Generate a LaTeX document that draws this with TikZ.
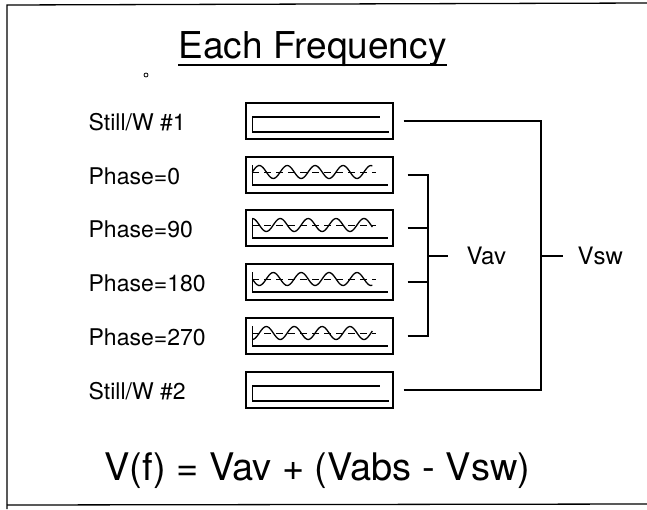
\documentclass[tikz,border=0pt]{standalone}
\usepackage{fontspec}
\setmainfont{TeX Gyre Heros}
\usetikzlibrary{positioning,calc}

\begin{document}
\begin{tikzpicture}[x=1pt,y=-1pt,line width=1.3pt,
  rowlab/.style={anchor=base west,inner sep=0pt,font=\fontsize{23}{23}\selectfont},
  scopebox/.style={draw,minimum width=147pt,minimum height=36pt,inner sep=0pt},
  sumlab/.style={anchor=base west,inner sep=0pt,font=\fontsize{24}{24}\selectfont}]
\useasboundingbox (0,0) rectangle (647,509);
% --- frame ---
\draw (647,3) -- (7,5) -- (7,509);
\draw (7,505) -- (647,504);
% --- title ---
\node[anchor=base west,inner sep=0pt,font=\fontsize{37}{37}\selectfont] (title) at (178,58) {Each Frequency};
\draw ([yshift=-7pt]title.base west) -- ([yshift=-7pt]title.base east);
\draw[line width=0.8pt] (146,75) circle (2);
% --- rows ---
\node[rowlab] (lst1) at (88,130) {Still/W \#1};
\node[rowlab] (lph0) at (88,184) {Phase=0};
\node[rowlab] (lph90) at (88,237) {Phase=90};
\node[rowlab] (lph180) at (88,291) {Phase=180};
\node[rowlab] (lph270) at (88,345) {Phase=270};
\node[rowlab] (lst2) at (88,399) {Still/W \#2};
\node[scopebox] (st1) at (319.5,121) {};
\node[scopebox] (ph0) at (319.5,175) {};
\node[scopebox] (ph90) at (319.5,228) {};
\node[scopebox] (ph180) at (319.5,282) {};
\node[scopebox] (ph270) at (319.5,336) {};
\node[scopebox] (st2) at (319.5,390) {};
% flat traces
\foreach \b in {st1,st2}{
  \draw ($(\b.west)+(7,-4)$) -- ($(\b.east)+(-14,-4)$);
  \draw ($(\b.west)+(7,-4)$) -- ($(\b.west)+(7,11)$) -- ($(\b.east)+(-5,11)$);
}
% sine traces
\foreach \b/\p in {ph0/0,ph90/90,ph180/180,ph270/270}{
  \draw ($(\b.west)+(7,-10)$) -- ($(\b.west)+(7,10)$) -- ($(\b.east)+(-6,10)$);
  \begin{scope}[shift={(\b.west)}]
    \draw[line width=1pt,dash pattern=on 7pt off 5pt] (7,-3) -- (131,-3);
    \draw plot[domain=0:120,samples=80,smooth] ({7+\x},{-3-6.5*sin(12.9*\x+\p)});
  \end{scope}
}
% --- sums ---
\coordinate (avj) at (428,256);
\coordinate (swj) at (541,256);
\node[sumlab] (vav) at (466,264) {Vav};
\node[sumlab] (vsw) at (577,264) {Vsw};
\foreach \b in {ph0,ph90,ph180,ph270}
  \draw[shorten <=14pt] (\b.east) -| (avj);
\draw (avj) -- ++(20,0);
\foreach \b in {st1,st2}
  \draw[shorten <=10pt] (\b.east) -| (swj);
\draw (swj) -- ++(22,0);
% --- formula ---
\node[anchor=base west,inner sep=0pt,font=\fontsize{38}{38}\selectfont] (vf) at (104,480) {V(f) = Vav + (Vabs - Vsw)};
\end{tikzpicture}
\end{document}
